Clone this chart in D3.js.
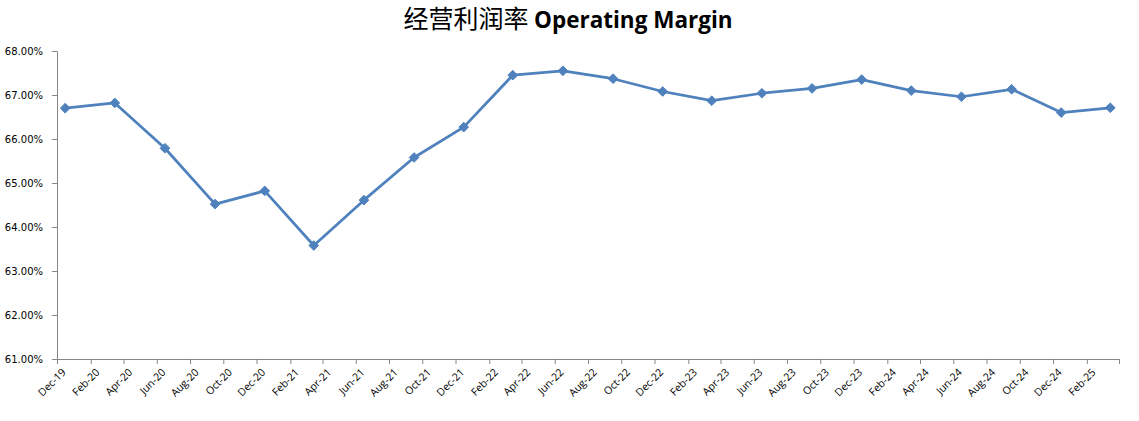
<!DOCTYPE html>
<html>
<head>
<meta charset="utf-8">
<script src="https://cdn.jsdelivr.net/npm/d3@7"></script>
<style>
  html, body { margin: 0; padding: 0; background: #fff; }
  svg { display: block; }
</style>
</head>
<body>
<svg id="chart" width="1139" height="421"></svg>
<script>
// ---- data ----
const periods = ["Dec-19","Mar-20","Jun-20","Sep-20","Dec-20","Mar-21","Jun-21","Sep-21","Dec-21",
  "Mar-22","Jun-22","Sep-22","Dec-22","Mar-23","Jun-23","Sep-23","Dec-23",
  "Mar-24","Jun-24","Sep-24","Dec-24","Mar-25"];
const marginValues = [66.70, 66.82, 65.79, 64.52, 64.82, 63.58, 64.61, 65.58, 66.27,
  67.45, 67.55, 67.37, 67.08, 66.87, 67.04, 67.15, 67.35,
  67.10, 66.96, 67.13, 66.60, 66.71];
const tickLabels = ["Dec-19","Feb-20","Apr-20","Jun-20","Aug-20","Oct-20","Dec-20","Feb-21","Apr-21",
  "Jun-21","Aug-21","Oct-21","Dec-21","Feb-22","Apr-22","Jun-22","Aug-22","Oct-22","Dec-22",
  "Feb-23","Apr-23","Jun-23","Aug-23","Oct-23","Dec-23","Feb-24","Apr-24","Jun-24","Aug-24",
  "Oct-24","Dec-24","Feb-25"];
const axisEnd = "Apr-25";
const yTicks = [61, 62, 63, 64, 65, 66, 67, 68];
const titleCN = "经营利润率";
const titleEN = "Operating Margin";

// ---- chart ----
(function () {
const parse = d3.timeParse("%b-%y");
const svg = d3.select("#chart");
const mLeft = 57, mRight = 1119, mTop = 51, mBottom = 359;

const x = d3.scaleTime()
  .domain([parse(tickLabels[0]), parse(axisEnd)])
  .range([mLeft, mRight]);
const y = d3.scaleLinear().domain([61, 68]).range([mBottom, mTop]);

const axisColor = "#868686";

// title
const title = svg.append("text")
  .attr("x", 568).attr("y", 28)
  .attr("text-anchor", "middle")
  .attr("fill", "#000");
title.append("tspan")
  .attr("font-family", "'Noto Sans CJK SC', sans-serif")
  .attr("font-size", 25)
  .text(titleCN + " ");
title.append("tspan")
  .attr("font-family", "'Open Sans', 'Liberation Sans', sans-serif")
  .attr("font-weight", "bold")
  .attr("font-size", 22.5)
  .text(titleEN);

// y axis
const yAxis = d3.axisLeft(y)
  .tickValues(yTicks)
  .tickSize(5)
  .tickPadding(9)
  .tickFormat(d => d.toFixed(2) + "%");
const gy = svg.append("g").attr("transform", `translate(${mLeft},0)`).call(yAxis);
gy.select(".domain").attr("stroke", axisColor);
gy.selectAll(".tick line").attr("stroke", axisColor);
gy.selectAll(".tick text")
  .attr("font-family", "'DejaVu Sans', sans-serif")
  .attr("font-size", 10)
  .attr("fill", "#000");

// x axis
const tickDates = tickLabels.map(parse).concat([parse(axisEnd)]);
const labelMap = new Map(tickLabels.map(l => [+parse(l), l]));
const xAxis = d3.axisBottom(x)
  .tickValues(tickDates)
  .tickSize(5)
  .tickFormat(d => labelMap.get(+d) || "");
const gx = svg.append("g").attr("transform", `translate(0,${mBottom})`).call(xAxis);
gx.select(".domain").attr("stroke", axisColor);
gx.selectAll(".tick line").attr("stroke", axisColor);
gx.selectAll(".tick text")
  .attr("font-family", "'Open Sans', 'Liberation Sans', sans-serif")
  .attr("font-size", 10.5)
  .attr("fill", "#000")
  .attr("text-anchor", "end")
  .attr("dy", null)
  .attr("y", 0)
  .attr("transform", "translate(9,14) rotate(-45)");

// line
const pts = periods.map((p, i) => ({ date: d3.timeDay.offset(parse(p), 15), v: marginValues[i] }));
const color = "#4F81BD";
svg.append("path")
  .datum(pts)
  .attr("fill", "none")
  .attr("stroke", color)
  .attr("stroke-width", 2.75)
  .attr("stroke-linejoin", "round")
  .attr("d", d3.line().x(d => x(d.date)).y(d => y(d.v)));

const diamond = d3.symbol().type(d3.symbolDiamond2).size(60);
svg.append("g").selectAll("path")
  .data(pts)
  .join("path")
  .attr("d", diamond)
  .attr("transform", d => `translate(${x(d.date)},${y(d.v)})`)
  .attr("fill", color)
  .attr("stroke", color)
  .attr("stroke-width", 1);
})();
</script>
</body>
</html>
